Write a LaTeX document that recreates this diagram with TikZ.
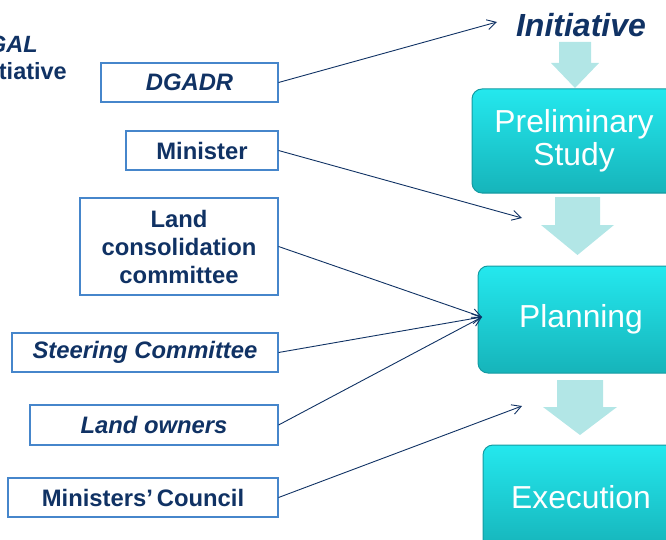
\documentclass[tikz,border=0pt]{standalone}
\usepackage{fontspec}
\setmainfont{Liberation Sans}
\usetikzlibrary{arrows.meta}
\definecolor{navy}{RGB}{16,50,100}
\definecolor{boxblue}{RGB}{70,134,203}
\definecolor{cyantop}{RGB}{36,232,238}
\definecolor{cyanbot}{RGB}{22,180,186}
\definecolor{cyanedge}{RGB}{20,155,162}
\definecolor{paleflow}{RGB}{178,230,230}
\tikzset{
  actor/.style={draw=boxblue, line width=1.1pt, fill=white, inner sep=0pt,
    text=navy, font=\fontsize{23.8}{28}\selectfont\bfseries, align=center},
  stage/.style={draw=cyanedge, line width=1pt, rounded corners=10pt,
    top color=cyantop, bottom color=cyanbot, inner sep=0pt, text=white,
    font=\fontsize{31.8}{33}\selectfont, align=center},
  link/.style={navy, line width=0.9pt, -{Straight Barb[length=9pt,width=10pt,line width=0.9pt]}},
  flow/.style={fill=paleflow, draw=none}
}
\begin{document}
\begin{tikzpicture}[x=1pt,y=-1pt]
\useasboundingbox (0,0) rectangle (666,540);
\clip (0,0) rectangle (666,540);
% partial text top left
\node[anchor=base east, inner sep=0pt, text=navy, font=\fontsize{23.5}{26}\selectfont\bfseries\itshape] (dgal) at (38,53) {DGAL};
\node[anchor=base east, inner sep=0pt, text=navy, font=\fontsize{23.5}{26}\selectfont\bfseries] (dgalini) at (67,80) {Initiative};
% left actor boxes
\node[actor, minimum width=177pt, minimum height=39pt] (dgadr) at (189.5,82.5) {\itshape DGADR};
\node[actor, minimum width=152pt, minimum height=39pt] (minister) at (202,150.5) {Minister};
\node[actor, minimum width=198pt, minimum height=97pt] (lcc) at (179,246.5) {Land\\consolidation\\committee};
\node[actor, minimum width=266pt, minimum height=39pt] (steer) at (145,352.5) {\itshape Steering Committee};
\node[actor, minimum width=248pt, minimum height=40pt] (owners) at (154,425) {\itshape Land owners};
\node[actor, minimum width=270pt, minimum height=39pt] (council) at (143,497.5) {Ministers’\,Council};
% right stages
\node[inner sep=0pt, text=navy, font=\fontsize{32}{34}\selectfont\bfseries\itshape] (init) at (581,25) {Initiative};
\node[stage, minimum width=204pt, minimum height=104pt] (prelim) at (574,141) {Preliminary\\Study};
\node[stage, minimum width=206pt, minimum height=107pt] (plan) at (581,319.5) {Planning};
\node[stage, minimum width=196pt, minimum height=104pt] (exec) at (581,497) {Execution};
% flow arrows
\fill[flow] (559,42) -- (591,42) -- (591,63) -- (599,63) -- (575,88) -- (551,63) -- (559,63) -- cycle;
\fill[flow] (555,197) -- (600,197) -- (600,225) -- (614,225) -- (577.5,255) -- (541,225) -- (555,225) -- cycle;
\fill[flow] (557,380) -- (603,380) -- (603,407) -- (617,407) -- (580,435) -- (543,407) -- (557,407) -- cycle;
% connector ends
\coordinate (initTip) at (497,22);
\coordinate (prelimTip) at (522,218);
\coordinate (planTip) at (482,317);
\coordinate (execTip) at (522,406);
\draw[link] (dgadr.east) -- (initTip);
\draw[link] (minister.east) -- (prelimTip);
\draw[link] (lcc.east) -- (planTip);
\draw[link] (steer.east) -- (planTip);
\draw[link] (owners.east) -- (planTip);
\draw[link] (council.east) -- (execTip);
\end{tikzpicture}
\end{document}
